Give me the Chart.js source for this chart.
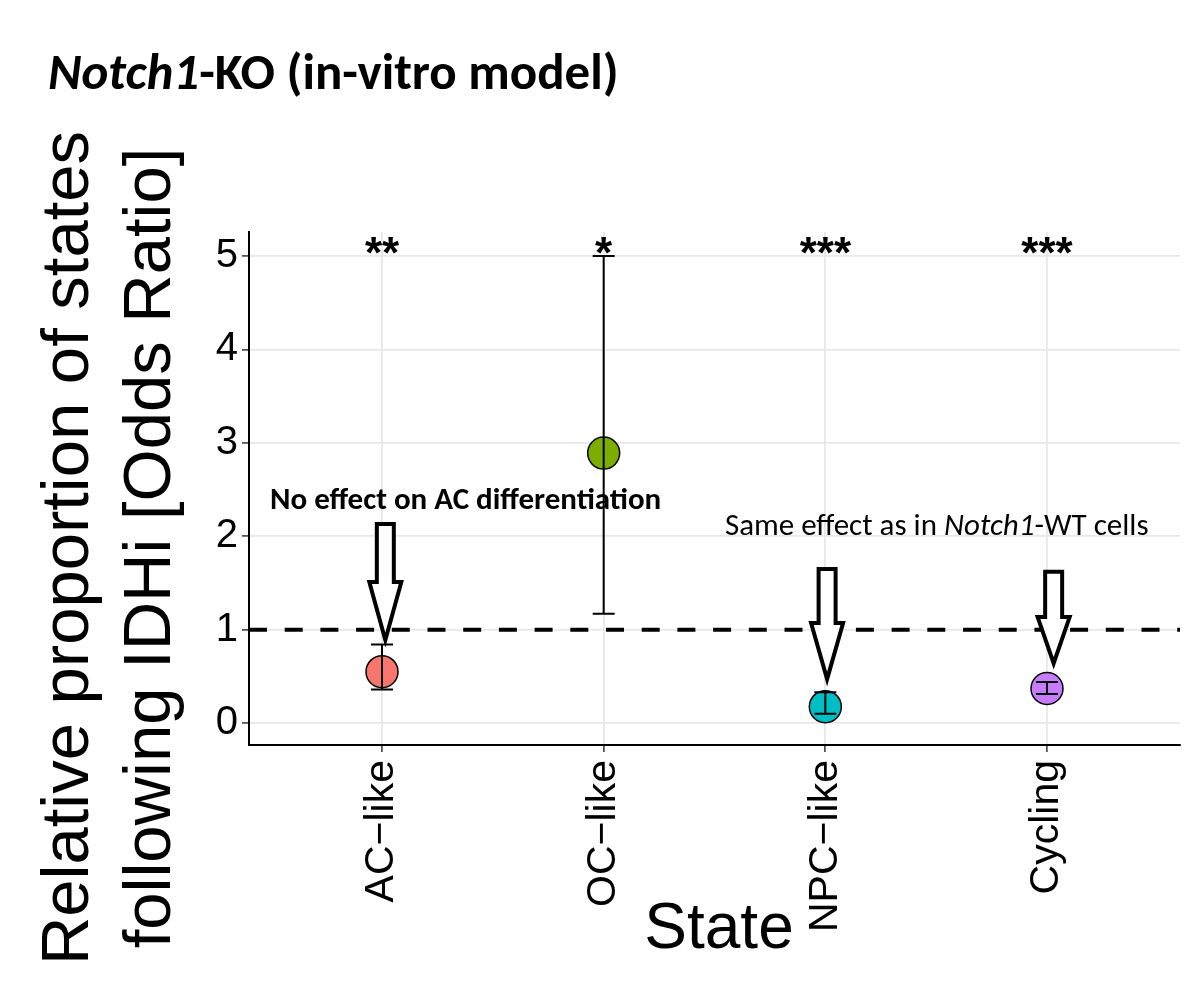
<!DOCTYPE html>
<html>
<head>
<meta charset="utf-8">
<script src="https://cdn.jsdelivr.net/npm/chart.js@4.4.1/dist/chart.umd.min.js"></script>
<style>
  html, body { margin: 0; background: #fff; }
  canvas { display: block; }
</style>
</head>
<body>
<canvas id="chart" width="1200" height="986"></canvas>
<script>
// --- données ---
const categories  = ['AC\u2212like', 'OC\u2212like', 'NPC\u2212like', 'Cycling'];
const oddsRatio   = [0.55, 2.89, 0.175, 0.37];
const ciLow       = [0.36, 1.17, 0.10, 0.31];
const ciHigh      = [0.84, 5.00, 0.33, 0.44];
const pointColors = ['#F8766D', '#7CAE00', '#00BFC4', '#C77CFF'];
const stars       = ['**', '*', '***', '***'];
const yTicks      = [0, 1, 2, 3, 4, 5];
const refLine     = 1;
const starY       = 4.87;

// flèches d'annotation (x en catégorie, y en odds ratio)
const arrowX    = [0.015, 2.008, 3.03];
const arrowTop  = [2.13, 1.65, 1.62];
const arrowNeck = [1.51, 1.07, 1.135];
const arrowTip  = [0.89, 0.47, 0.64];

const SANS  = '"Liberation Sans", Arial, sans-serif';
const NOTE  = 'Carlito, Lato, "Open Sans", sans-serif';

/** Dessine une suite de fragments (romain / italique) à partir de x. */
function drawRuns(ctx, runs, x, y, size, weight) {
  for (const r of runs) {
    ctx.font = `${r.italic ? 'italic ' : ''}${weight} ${size}px ${NOTE}`;
    ctx.fillText(r.t, x, y);
    x += ctx.measureText(r.t).width;
  }
}

const overlay = {
  id: 'overlay',
  beforeDatasetsDraw(chart) {
    const { ctx, chartArea: a, scales: { y } } = chart;
    const py = y.getPixelForValue(refLine);
    ctx.save();
    ctx.strokeStyle = '#000';
    ctx.lineWidth = 4;
    ctx.setLineDash([18, 17.7]);
    ctx.beginPath();
    ctx.moveTo(a.left, py);
    ctx.lineTo(a.right, py);
    ctx.stroke();
    ctx.restore();
  },
  afterDatasetsDraw(chart) {
    const { ctx, scales: { x, y } } = chart;
    ctx.save();

    // barres d'erreur
    ctx.strokeStyle = '#000';
    ctx.lineWidth = 2;
    categories.forEach((_, i) => {
      const px = x.getPixelForValue(i);
      const t = y.getPixelForValue(ciHigh[i]);
      const b = y.getPixelForValue(ciLow[i]);
      ctx.beginPath();
      ctx.moveTo(px, t); ctx.lineTo(px, b);
      ctx.moveTo(px - 11, t); ctx.lineTo(px + 11, t);
      ctx.moveTo(px - 11, b); ctx.lineTo(px + 11, b);
      ctx.stroke();
    });

    // étoiles de significativité
    ctx.fillStyle = '#000';
    ctx.font = `bold 44px ${SANS}`;
    ctx.textAlign = 'center';
    ctx.textBaseline = 'alphabetic';
    stars.forEach((s, i) => ctx.fillText(s, x.getPixelForValue(i), y.getPixelForValue(starY)));

    // textes d'annotation
    ctx.textAlign = 'left';
    drawRuns(ctx, [{ t: 'No effect on AC differentiation' }],
      x.getPixelForValue(-0.505), y.getPixelForValue(2.29), 31, 'bold');
    drawRuns(ctx, [{ t: 'Same effect as in ' }, { t: 'Notch1', italic: true }, { t: '-WT cells' }],
      x.getPixelForValue(1.547), y.getPixelForValue(2.01), 31, 'normal');

    // flèches
    ctx.lineWidth = 4;
    ctx.lineJoin = 'miter';
    ctx.fillStyle = '#fff';
    arrowX.forEach((ax, i) => {
      const cx = x.getPixelForValue(ax);
      const top = y.getPixelForValue(arrowTop[i]);
      const neck = y.getPixelForValue(arrowNeck[i]);
      const tip = y.getPixelForValue(arrowTip[i]);
      const sw = 8.5, hw = 16;
      ctx.beginPath();
      ctx.moveTo(cx - sw, top);
      ctx.lineTo(cx + sw, top);
      ctx.lineTo(cx + sw, neck);
      ctx.lineTo(cx + hw, neck);
      ctx.lineTo(cx, tip);
      ctx.lineTo(cx - hw, neck);
      ctx.lineTo(cx - sw, neck);
      ctx.closePath();
      ctx.fill();
      ctx.stroke();
    });
    ctx.restore();
  },
  afterDraw(chart) {
    const { ctx } = chart;
    ctx.save();
    ctx.fillStyle = '#000';
    ctx.textBaseline = 'alphabetic';

    // titre
    ctx.textAlign = 'left';
    drawRuns(ctx, [{ t: 'Notch1', italic: true }, { t: '-KO (in-vitro model)' }], 48, 89, 51, 'bold');

    // titre de l'axe x
    ctx.textAlign = 'center';
    ctx.font = `64px ${SANS}`;
    ctx.fillText('State', 719, 948);

    // titre de l'axe y (deux lignes)
    ctx.font = `67px ${SANS}`;
    [['Relative proportion of states', 88], ['following IDHi [Odds Ratio]', 170]].forEach(([txt, bx]) => {
      ctx.save();
      ctx.translate(bx, 548);
      ctx.rotate(-Math.PI / 2);
      ctx.fillText(txt, 0, 0);
      ctx.restore();
    });
    ctx.restore();
  },
};

new Chart(document.getElementById('chart'), {
  type: 'scatter',
  data: {
    datasets: [{
      data: categories.map((_, i) => ({ x: i, y: oddsRatio[i] })),
      pointRadius: 16,
      pointHoverRadius: 16,
      pointBackgroundColor: pointColors,
      pointBorderColor: '#000',
      pointBorderWidth: 1.5,
    }],
  },
  options: {
    responsive: false,
    animation: false,
    devicePixelRatio: 1,
    layout: { padding: { left: 0, right: 20, top: 232, bottom: 0 } },
    plugins: { legend: { display: false }, tooltip: { enabled: false } },
    scales: {
      x: {
        type: 'linear', min: -0.6, max: 3.6,
        afterBuildTicks: s => { s.ticks = categories.map((_, i) => ({ value: i })); },
        afterFit: s => { s.height = 241; },
        ticks: {
          callback: v => categories[v],
          autoSkip: false, minRotation: 90, maxRotation: 90, padding: 8,
          color: '#000', font: { family: SANS, size: 41 },
        },
        grid: { color: '#E8E8E8', lineWidth: 1.8, tickColor: '#333', tickLength: 7, tickWidth: 1.5 },
        border: { color: '#000', width: 2 },
      },
      y: {
        type: 'linear', min: -0.235, max: 5.257,
        afterBuildTicks: s => { s.ticks = yTicks.map(v => ({ value: v })); },
        afterFit: s => { s.width = 249; },
        ticks: { color: '#000', padding: 4, font: { family: SANS, size: 40 } },
        grid: { color: '#E8E8E8', lineWidth: 1.8, tickColor: '#333', tickLength: 7, tickWidth: 1.5 },
        border: { color: '#000', width: 2 },
      },
    },
  },
  plugins: [overlay],
});
</script>
</body>
</html>
